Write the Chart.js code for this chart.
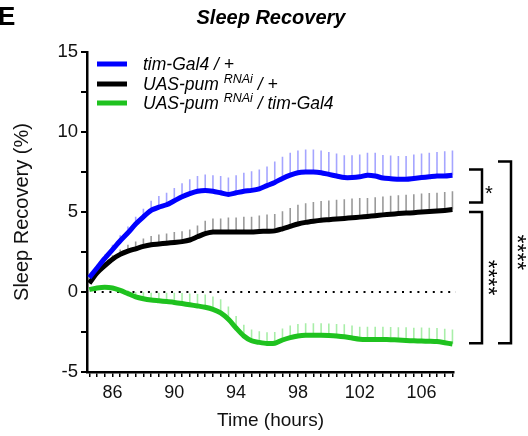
<!DOCTYPE html>
<html>
<head>
<meta charset="utf-8">
<script src="https://cdn.jsdelivr.net/npm/chart.js@4.4.1/dist/chart.umd.min.js"></script>
<style>
  html, body { margin: 0; padding: 0; background: #fff; }
  #wrap { width: 528px; height: 436px; }
</style>
</head>
<body>
<div id="wrap"><canvas id="sleepChart"></canvas></div>
<script>
// time points (hours), 30 min bins
const timeHours = [84.5, 85, 85.5, 86, 86.5, 87, 87.5, 88, 88.5, 89, 89.5, 90,
  90.5, 91, 91.5, 92, 92.5, 93, 93.5, 94, 94.5, 95, 95.5, 96,
  96.5, 97, 97.5, 98, 98.5, 99, 99.5, 100, 100.5, 101, 101.5, 102,
  102.5, 103, 103.5, 104, 104.5, 105, 105.5, 106, 106.5, 107, 107.5, 108];

// tim-Gal4 / +
const timMean = [0.9, 1.5, 2.1, 2.65, 3.2, 3.7, 4.25, 4.7, 5.1, 5.3, 5.45, 5.7,
  5.95, 6.15, 6.3, 6.35, 6.3, 6.2, 6.1, 6.2, 6.3, 6.35, 6.45, 6.65,
  6.85, 7.1, 7.3, 7.45, 7.5, 7.5, 7.45, 7.35, 7.25, 7.15, 7.15, 7.2,
  7.3, 7.25, 7.12, 7.08, 7.05, 7.05, 7.1, 7.15, 7.2, 7.25, 7.25, 7.3];
const timSem = [0.15, 0.2, 0.25, 0.3, 0.35, 0.4, 0.45, 0.5, 0.6, 0.7, 0.75, 0.8,
  0.85, 0.9, 0.95, 1.0, 1.0, 1.05, 1.05, 1.1, 1.15, 1.2, 1.2, 1.2,
  1.3, 1.35, 1.4, 1.4, 1.4, 1.4, 1.4, 1.4, 1.4, 1.4, 1.4, 1.4,
  1.4, 1.45, 1.45, 1.45, 1.45, 1.45, 1.5, 1.5, 1.5, 1.5, 1.55, 1.55];

// UAS-pum RNAi / +
const pumMean = [0.55, 1.2, 1.65, 2.05, 2.35, 2.55, 2.7, 2.85, 2.95, 3.0, 3.05, 3.1,
  3.15, 3.25, 3.45, 3.65, 3.75, 3.75, 3.75, 3.75, 3.75, 3.75, 3.78, 3.8,
  3.82, 3.95, 4.1, 4.25, 4.35, 4.42, 4.48, 4.52, 4.56, 4.6, 4.64, 4.68,
  4.72, 4.77, 4.82, 4.86, 4.9, 4.93, 4.96, 5.0, 5.03, 5.06, 5.1, 5.15];
const pumSem = [0.1, 0.15, 0.2, 0.25, 0.3, 0.4, 0.45, 0.5, 0.55, 0.6, 0.6, 0.65,
  0.65, 0.65, 0.7, 0.8, 0.85, 0.85, 0.9, 0.9, 0.95, 0.95, 1.0, 1.05,
  1.05, 1.1, 1.15, 1.2, 1.2, 1.2, 1.2, 1.2, 1.2, 1.2, 1.2, 1.2,
  1.15, 1.15, 1.15, 1.15, 1.15, 1.15, 1.15, 1.15, 1.15, 1.15, 1.15, 1.15];

// UAS-pum RNAi / tim-Gal4
const kdMean = [0.15, 0.25, 0.3, 0.25, 0.1, -0.1, -0.3, -0.42, -0.5, -0.55, -0.6, -0.65,
  -0.72, -0.8, -0.87, -0.95, -1.08, -1.3, -1.7, -2.25, -2.75, -3.05, -3.15, -3.22,
  -3.2, -3.0, -2.85, -2.75, -2.7, -2.7, -2.7, -2.72, -2.75, -2.8, -2.88, -2.95,
  -2.97, -2.97, -2.97, -2.98, -3.0, -3.03, -3.05, -3.07, -3.08, -3.1, -3.17, -3.25];
const kdSem = [0.05, 0.05, 0.1, 0.1, 0.15, 0.2, 0.3, 0.4, 0.45, 0.5, 0.55, 0.6,
  0.65, 0.7, 0.75, 0.8, 0.8, 0.85, 0.8, 0.75, 0.7, 0.7, 0.7, 0.7,
  0.7, 0.72, 0.75, 0.75, 0.75, 0.75, 0.75, 0.75, 0.75, 0.78, 0.78, 0.78,
  0.8, 0.8, 0.8, 0.8, 0.8, 0.82, 0.82, 0.85, 0.85, 0.85, 0.88, 0.9];

const xTickLabels = [86, 90, 94, 98, 102, 106];
const yTickLabels = [-5, 0, 5, 10, 15];

// significance brackets (y in data units)
const brackets = [
  { top: 7.65, bottom: 5.6, stars: "*", col: 0 },
  { top: 5.0, bottom: -3.2, stars: "****", col: 0 },
  { top: 8.15, bottom: -3.2, stars: "****", col: 1 },
];

const FONT = "'Liberation Sans', Arial, sans-serif";

const groups = [
  { pre: "tim-Gal4 / +", sup: "", post: "", mean: timMean, sem: timSem, color: "#0000ff", bar: "#a5a5ff" },
  { pre: "UAS-pum ", sup: "RNAi", post: " / +", mean: pumMean, sem: pumSem, color: "#000000", bar: "#9a9a9a" },
  { pre: "UAS-pum ", sup: "RNAi", post: " / tim-Gal4", mean: kdMean, sem: kdSem, color: "#1fc21f", bar: "#a8eea8" },
];

const figureExtras = {
  id: "figureExtras",
  beforeDatasetsDraw(chart) {
    const { ctx, chartArea, scales: { x, y } } = chart;
    ctx.save();
    // dotted zero line
    ctx.strokeStyle = "#000";
    ctx.lineWidth = 2;
    ctx.setLineDash([2, 5.7]);
    ctx.beginPath();
    ctx.moveTo(chartArea.left + 7, y.getPixelForValue(0));
    ctx.lineTo(chartArea.right + 2, y.getPixelForValue(0));
    ctx.stroke();
    ctx.setLineDash([]);
    // upper SEM bars
    ctx.lineWidth = 1.6;
    groups.slice().reverse().forEach(g => {
      ctx.strokeStyle = g.bar;
      ctx.beginPath();
      timeHours.forEach((t, i) => {
        const px = x.getPixelForValue(t);
        ctx.moveTo(px, y.getPixelForValue(g.mean[i]));
        ctx.lineTo(px, y.getPixelForValue(g.mean[i] + g.sem[i]));
      });
      ctx.stroke();
    });
    ctx.restore();
  },
  afterDraw(chart) {
    const { ctx, chartArea, scales: { y } } = chart;
    ctx.save();
    ctx.fillStyle = "#000";
    ctx.textBaseline = "alphabetic";

    // panel letter
    ctx.font = "bold 26px " + FONT;
    ctx.textAlign = "left";
    ctx.fillText("E", -2, 25);

    // title
    ctx.font = "bold italic 20px " + FONT;
    ctx.textAlign = "center";
    ctx.fillText("Sleep Recovery", 271, 24);

    // legend
    ctx.textAlign = "left";
    const rowY = [64, 84, 103];
    groups.forEach((g, i) => {
      ctx.fillStyle = g.color;
      ctx.fillRect(97, rowY[i] - 2.5, 30, 5);
      ctx.fillStyle = "#000";
      let tx = 143;
      const base = rowY[i] + 6;
      ctx.font = "italic 17.5px " + FONT;
      ctx.fillText(g.pre, tx, base);
      tx += ctx.measureText(g.pre).width;
      if (g.sup) {
        ctx.font = "italic 12.5px " + FONT;
        ctx.fillText(g.sup, tx, base - 7);
        tx += ctx.measureText(g.sup).width;
        ctx.font = "italic 17.5px " + FONT;
      }
      ctx.fillText(g.post, tx, base);
    });

    // significance brackets
    ctx.strokeStyle = "#000";
    ctx.lineWidth = 2.5;
    brackets.forEach(b => {
      const xv = chartArea.right + 28 + b.col * 29;
      const xa = xv - 13;
      const yt = y.getPixelForValue(b.top);
      const yb = y.getPixelForValue(b.bottom);
      ctx.beginPath();
      ctx.moveTo(xa, yt);
      ctx.lineTo(xv, yt);
      ctx.lineTo(xv, yb);
      ctx.lineTo(xa, yb);
      ctx.stroke();
      const ym = (yt + yb) / 2;
      if (b.stars.length === 1) {
        ctx.font = "20px " + FONT;
        ctx.textAlign = "left";
        ctx.fillText(b.stars, xv + 3, ym + 14);
      } else {
        ctx.font = "23px " + FONT;
        ctx.save();
        ctx.translate(xv + 4, ym);
        ctx.rotate(Math.PI / 2);
        ctx.textAlign = "center";
        ctx.textBaseline = "middle";
        ctx.fillText(b.stars, 0, 0);
        ctx.restore();
      }
    });
    ctx.restore();
  }
};

const ctx = document.getElementById("sleepChart").getContext("2d");
const sleepChart = new Chart(ctx, {
  type: "line",
  data: {
    datasets: groups.map(g => ({
      label: g.pre + g.sup + g.post,
      data: timeHours.map((t, i) => ({ x: t, y: g.mean[i] })),
      borderColor: g.color,
      backgroundColor: g.color,
      borderWidth: 5,
      pointRadius: 0,
      tension: 0.25,
      fill: false,
    })),
  },
  options: {
    responsive: true,
    maintainAspectRatio: false,
    animation: false,
    layout: { padding: { left: 0, right: 74, top: 52, bottom: 0 } },
    scales: {
      x: {
        type: "linear",
        min: 84.35,
        max: 108.1,
        afterFit: s => { s.height = 64; },
        border: { color: "#000", width: 2.5 },
        grid: { drawOnChartArea: false, color: "#000", lineWidth: 1.5, tickLength: 5 },
        ticks: {
          stepSize: 0.5,
          includeBounds: false,
          autoSkip: false,
          maxRotation: 0,
          padding: 5,
          color: "#111",
          font: { family: FONT, size: 18 },
          callback: v => (xTickLabels.includes(v) ? String(v) : ""),
        },
        title: {
          display: true,
          text: "Time (hours)",
          color: "#111",
          font: { family: FONT, size: 19 },
          padding: { top: 5 },
        },
      },
      y: {
        min: -5,
        max: 15,
        afterFit: s => { s.width = 87; },
        border: { color: "#000", width: 2.5 },
        grid: { drawOnChartArea: false, color: "#000", lineWidth: 2, tickLength: 6 },
        ticks: {
          stepSize: 2.5,
          padding: 3,
          color: "#111",
          font: { family: FONT, size: 18.5 },
          callback: v => (yTickLabels.includes(v) ? String(v) : ""),
        },
        title: {
          display: true,
          text: "Sleep Recovery (%)",
          color: "#111",
          font: { family: FONT, size: 20 },
          padding: { top: 10, bottom: 0 },
        },
      },
    },
    plugins: {
      legend: { display: false },
      tooltip: { enabled: false },
    },
  },
  plugins: [figureExtras],
});
</script>
</body>
</html>
